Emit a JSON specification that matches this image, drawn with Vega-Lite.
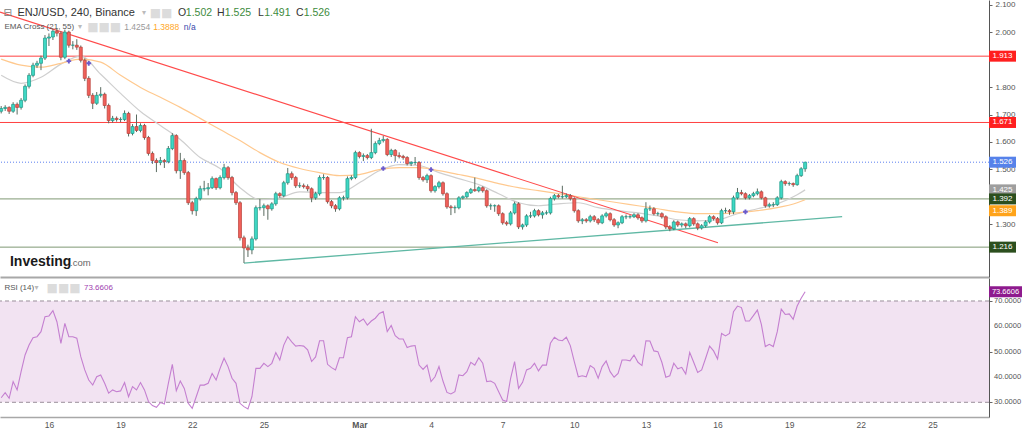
{
"$schema":"https://vega.github.io/schema/vega-lite/v6.json",
"padding":0,
"spacing":1,
"config":{"view":{"stroke":null},"font":"Liberation Sans","axis":{"grid":false,"labelOverlap":false,"labelFont":"Liberation Sans","labelColor":"#555","labelFontSize":8,"domainColor":"#666","tickColor":"#666"}},
"datasets":{
"candles":[
{"i":0,"o":1.712,"h":1.731,"l":1.704,"c":1.722,"r":31.8},
{"i":1,"o":1.722,"h":1.734,"l":1.713,"c":1.726,"r":33.8},
{"i":2,"o":1.726,"h":1.730,"l":1.702,"c":1.712,"r":31.6},
{"i":3,"o":1.712,"h":1.745,"l":1.706,"c":1.737,"r":38.2},
{"i":4,"o":1.737,"h":1.744,"l":1.700,"c":1.726,"r":34.9},
{"i":5,"o":1.726,"h":1.760,"l":1.718,"c":1.752,"r":42.1},
{"i":6,"o":1.752,"h":1.810,"l":1.745,"c":1.803,"r":48.7},
{"i":7,"o":1.803,"h":1.851,"l":1.795,"c":1.843,"r":52.6},
{"i":8,"o":1.843,"h":1.889,"l":1.836,"c":1.880,"r":55.5},
{"i":9,"o":1.880,"h":1.896,"l":1.870,"c":1.887,"r":55.9},
{"i":10,"o":1.887,"h":1.915,"l":1.862,"c":1.906,"r":57.9},
{"i":11,"o":1.906,"h":1.990,"l":1.899,"c":1.979,"r":63.8},
{"i":12,"o":1.979,"h":1.996,"l":1.950,"c":1.983,"r":64.1},
{"i":13,"o":1.983,"h":2.012,"l":1.972,"c":2.004,"r":66.2},
{"i":14,"o":2.004,"h":2.015,"l":1.985,"c":1.997,"r":61.8},
{"i":15,"o":1.997,"h":2.003,"l":1.898,"c":1.909,"r":53.3},
{"i":16,"o":1.909,"h":2.010,"l":1.902,"c":2.001,"r":61.2},
{"i":17,"o":2.001,"h":2.006,"l":1.944,"c":1.953,"r":55.9},
{"i":18,"o":1.953,"h":1.968,"l":1.938,"c":1.953,"r":55.9},
{"i":19,"o":1.953,"h":1.975,"l":1.936,"c":1.946,"r":55.3},
{"i":20,"o":1.946,"h":1.952,"l":1.890,"c":1.898,"r":48.0},
{"i":21,"o":1.898,"h":1.905,"l":1.822,"c":1.832,"r":42.8},
{"i":22,"o":1.832,"h":1.840,"l":1.760,"c":1.770,"r":38.8},
{"i":23,"o":1.770,"h":1.778,"l":1.720,"c":1.741,"r":36.8},
{"i":24,"o":1.741,"h":1.782,"l":1.735,"c":1.770,"r":40.1},
{"i":25,"o":1.770,"h":1.800,"l":1.762,"c":1.774,"r":40.8},
{"i":26,"o":1.774,"h":1.780,"l":1.722,"c":1.733,"r":37.5},
{"i":27,"o":1.733,"h":1.740,"l":1.668,"c":1.678,"r":33.6},
{"i":28,"o":1.678,"h":1.695,"l":1.670,"c":1.686,"r":34.9},
{"i":29,"o":1.686,"h":1.693,"l":1.674,"c":1.682,"r":34.2},
{"i":30,"o":1.682,"h":1.690,"l":1.672,"c":1.682,"r":34.5},
{"i":31,"o":1.682,"h":1.715,"l":1.676,"c":1.704,"r":37.8},
{"i":32,"o":1.704,"h":1.710,"l":1.620,"c":1.631,"r":32.2},
{"i":33,"o":1.631,"h":1.665,"l":1.624,"c":1.656,"r":36.2},
{"i":34,"o":1.656,"h":1.700,"l":1.636,"c":1.642,"r":34.9},
{"i":35,"o":1.642,"h":1.668,"l":1.635,"c":1.660,"r":37.8},
{"i":36,"o":1.660,"h":1.666,"l":1.608,"c":1.616,"r":34.9},
{"i":37,"o":1.616,"h":1.622,"l":1.550,"c":1.558,"r":30.3},
{"i":38,"o":1.558,"h":1.565,"l":1.520,"c":1.532,"r":28.7},
{"i":39,"o":1.532,"h":1.540,"l":1.490,"c":1.525,"r":28.0},
{"i":40,"o":1.525,"h":1.545,"l":1.515,"c":1.532,"r":29.9},
{"i":41,"o":1.532,"h":1.538,"l":1.505,"c":1.528,"r":29.3},
{"i":42,"o":1.528,"h":1.585,"l":1.522,"c":1.576,"r":37.5},
{"i":43,"o":1.576,"h":1.632,"l":1.570,"c":1.623,"r":45.0},
{"i":44,"o":1.623,"h":1.628,"l":1.485,"c":1.495,"r":34.6},
{"i":45,"o":1.495,"h":1.560,"l":1.465,"c":1.532,"r":38.4},
{"i":46,"o":1.532,"h":1.540,"l":1.480,"c":1.488,"r":35.5},
{"i":47,"o":1.488,"h":1.494,"l":1.370,"c":1.378,"r":29.6},
{"i":48,"o":1.378,"h":1.385,"l":1.335,"c":1.349,"r":27.6},
{"i":49,"o":1.349,"h":1.400,"l":1.330,"c":1.393,"r":32.2},
{"i":50,"o":1.393,"h":1.440,"l":1.386,"c":1.429,"r":36.8},
{"i":51,"o":1.429,"h":1.458,"l":1.420,"c":1.429,"r":36.8},
{"i":52,"o":1.429,"h":1.450,"l":1.405,"c":1.433,"r":37.5},
{"i":53,"o":1.433,"h":1.474,"l":1.428,"c":1.466,"r":41.4},
{"i":54,"o":1.466,"h":1.470,"l":1.425,"c":1.433,"r":38.8},
{"i":55,"o":1.433,"h":1.478,"l":1.427,"c":1.470,"r":43.4},
{"i":56,"o":1.470,"h":1.520,"l":1.463,"c":1.506,"r":47.4},
{"i":57,"o":1.506,"h":1.512,"l":1.462,"c":1.470,"r":44.1},
{"i":58,"o":1.470,"h":1.476,"l":1.405,"c":1.415,"r":39.5},
{"i":59,"o":1.415,"h":1.421,"l":1.370,"c":1.378,"r":37.5},
{"i":60,"o":1.378,"h":1.384,"l":1.240,"c":1.250,"r":29.6},
{"i":61,"o":1.250,"h":1.258,"l":1.158,"c":1.213,"r":28.3},
{"i":62,"o":1.213,"h":1.225,"l":1.180,"c":1.206,"r":27.4},
{"i":63,"o":1.206,"h":1.255,"l":1.190,"c":1.246,"r":32.2},
{"i":64,"o":1.246,"h":1.368,"l":1.240,"c":1.360,"r":43.4},
{"i":65,"o":1.360,"h":1.392,"l":1.350,"c":1.360,"r":43.4},
{"i":66,"o":1.360,"h":1.375,"l":1.330,"c":1.367,"r":45.4},
{"i":67,"o":1.367,"h":1.372,"l":1.316,"c":1.356,"r":44.1},
{"i":68,"o":1.356,"h":1.380,"l":1.349,"c":1.374,"r":45.4},
{"i":69,"o":1.374,"h":1.418,"l":1.367,"c":1.411,"r":49.6},
{"i":70,"o":1.411,"h":1.416,"l":1.396,"c":1.404,"r":46.7},
{"i":71,"o":1.404,"h":1.458,"l":1.398,"c":1.451,"r":52.6},
{"i":72,"o":1.451,"h":1.505,"l":1.444,"c":1.484,"r":55.9},
{"i":73,"o":1.484,"h":1.492,"l":1.462,"c":1.470,"r":53.9},
{"i":74,"o":1.470,"h":1.476,"l":1.432,"c":1.440,"r":52.2},
{"i":75,"o":1.440,"h":1.452,"l":1.432,"c":1.440,"r":52.4},
{"i":76,"o":1.440,"h":1.448,"l":1.430,"c":1.437,"r":52.2},
{"i":77,"o":1.437,"h":1.445,"l":1.420,"c":1.429,"r":50.7},
{"i":78,"o":1.429,"h":1.434,"l":1.380,"c":1.396,"r":46.1},
{"i":79,"o":1.396,"h":1.418,"l":1.389,"c":1.411,"r":47.9},
{"i":80,"o":1.411,"h":1.478,"l":1.404,"c":1.470,"r":54.3},
{"i":81,"o":1.470,"h":1.482,"l":1.462,"c":1.470,"r":54.3},
{"i":82,"o":1.470,"h":1.475,"l":1.375,"c":1.382,"r":45.0},
{"i":83,"o":1.382,"h":1.388,"l":1.358,"c":1.367,"r":43.7},
{"i":84,"o":1.367,"h":1.373,"l":1.345,"c":1.356,"r":42.8},
{"i":85,"o":1.356,"h":1.402,"l":1.350,"c":1.396,"r":47.6},
{"i":86,"o":1.396,"h":1.404,"l":1.386,"c":1.396,"r":47.6},
{"i":87,"o":1.396,"h":1.474,"l":1.390,"c":1.466,"r":55.5},
{"i":88,"o":1.466,"h":1.478,"l":1.460,"c":1.470,"r":55.9},
{"i":89,"o":1.470,"h":1.568,"l":1.464,"c":1.561,"r":63.8},
{"i":90,"o":1.561,"h":1.566,"l":1.540,"c":1.547,"r":61.8},
{"i":91,"o":1.547,"h":1.558,"l":1.530,"c":1.550,"r":62.9},
{"i":92,"o":1.550,"h":1.556,"l":1.536,"c":1.543,"r":60.5},
{"i":93,"o":1.543,"h":1.648,"l":1.537,"c":1.561,"r":62.1},
{"i":94,"o":1.561,"h":1.602,"l":1.555,"c":1.594,"r":63.2},
{"i":95,"o":1.594,"h":1.615,"l":1.588,"c":1.605,"r":65.1},
{"i":96,"o":1.605,"h":1.622,"l":1.598,"c":1.609,"r":65.8},
{"i":97,"o":1.609,"h":1.614,"l":1.548,"c":1.554,"r":57.9},
{"i":98,"o":1.554,"h":1.575,"l":1.545,"c":1.569,"r":60.3},
{"i":99,"o":1.569,"h":1.574,"l":1.528,"c":1.550,"r":56.3},
{"i":100,"o":1.550,"h":1.562,"l":1.540,"c":1.547,"r":55.0},
{"i":101,"o":1.547,"h":1.553,"l":1.535,"c":1.543,"r":55.0},
{"i":102,"o":1.543,"h":1.548,"l":1.514,"c":1.521,"r":51.6},
{"i":103,"o":1.521,"h":1.530,"l":1.512,"c":1.525,"r":52.2},
{"i":104,"o":1.525,"h":1.545,"l":1.516,"c":1.525,"r":52.4},
{"i":105,"o":1.525,"h":1.530,"l":1.462,"c":1.470,"r":44.7},
{"i":106,"o":1.470,"h":1.476,"l":1.455,"c":1.462,"r":43.0},
{"i":107,"o":1.462,"h":1.484,"l":1.450,"c":1.477,"r":44.7},
{"i":108,"o":1.477,"h":1.482,"l":1.415,"c":1.422,"r":38.2},
{"i":109,"o":1.422,"h":1.442,"l":1.415,"c":1.437,"r":40.1},
{"i":110,"o":1.437,"h":1.458,"l":1.430,"c":1.451,"r":44.1},
{"i":111,"o":1.451,"h":1.456,"l":1.404,"c":1.411,"r":38.4},
{"i":112,"o":1.411,"h":1.416,"l":1.356,"c":1.363,"r":33.9},
{"i":113,"o":1.363,"h":1.370,"l":1.333,"c":1.360,"r":33.3},
{"i":114,"o":1.360,"h":1.368,"l":1.340,"c":1.360,"r":34.2},
{"i":115,"o":1.360,"h":1.402,"l":1.354,"c":1.396,"r":40.8},
{"i":116,"o":1.396,"h":1.405,"l":1.390,"c":1.400,"r":40.5},
{"i":117,"o":1.400,"h":1.420,"l":1.394,"c":1.415,"r":42.1},
{"i":118,"o":1.415,"h":1.432,"l":1.410,"c":1.426,"r":45.8},
{"i":119,"o":1.426,"h":1.470,"l":1.418,"c":1.422,"r":44.7},
{"i":120,"o":1.422,"h":1.438,"l":1.416,"c":1.433,"r":47.6},
{"i":121,"o":1.433,"h":1.438,"l":1.415,"c":1.422,"r":45.4},
{"i":122,"o":1.422,"h":1.427,"l":1.360,"c":1.367,"r":38.2},
{"i":123,"o":1.367,"h":1.375,"l":1.352,"c":1.367,"r":38.4},
{"i":124,"o":1.367,"h":1.372,"l":1.345,"c":1.367,"r":37.5},
{"i":125,"o":1.367,"h":1.372,"l":1.330,"c":1.338,"r":34.2},
{"i":126,"o":1.338,"h":1.343,"l":1.298,"c":1.305,"r":30.9},
{"i":127,"o":1.305,"h":1.312,"l":1.294,"c":1.301,"r":30.3},
{"i":128,"o":1.301,"h":1.348,"l":1.295,"c":1.341,"r":39.5},
{"i":129,"o":1.341,"h":1.382,"l":1.335,"c":1.374,"r":46.1},
{"i":130,"o":1.374,"h":1.380,"l":1.282,"c":1.290,"r":35.5},
{"i":131,"o":1.290,"h":1.302,"l":1.280,"c":1.297,"r":37.9},
{"i":132,"o":1.297,"h":1.336,"l":1.290,"c":1.330,"r":42.8},
{"i":133,"o":1.330,"h":1.345,"l":1.322,"c":1.330,"r":43.4},
{"i":134,"o":1.330,"h":1.356,"l":1.324,"c":1.349,"r":45.4},
{"i":135,"o":1.349,"h":1.354,"l":1.328,"c":1.334,"r":42.4},
{"i":136,"o":1.334,"h":1.348,"l":1.320,"c":1.341,"r":44.7},
{"i":137,"o":1.341,"h":1.350,"l":1.334,"c":1.341,"r":44.7},
{"i":138,"o":1.341,"h":1.400,"l":1.335,"c":1.393,"r":53.3},
{"i":139,"o":1.393,"h":1.410,"l":1.386,"c":1.404,"r":55.7},
{"i":140,"o":1.404,"h":1.410,"l":1.394,"c":1.400,"r":54.6},
{"i":141,"o":1.400,"h":1.440,"l":1.393,"c":1.400,"r":54.3},
{"i":142,"o":1.400,"h":1.412,"l":1.395,"c":1.404,"r":55.7},
{"i":143,"o":1.404,"h":1.410,"l":1.386,"c":1.393,"r":52.4},
{"i":144,"o":1.393,"h":1.398,"l":1.342,"c":1.349,"r":46.1},
{"i":145,"o":1.349,"h":1.354,"l":1.305,"c":1.312,"r":40.1},
{"i":146,"o":1.312,"h":1.322,"l":1.300,"c":1.316,"r":40.5},
{"i":147,"o":1.316,"h":1.322,"l":1.305,"c":1.312,"r":40.1},
{"i":148,"o":1.312,"h":1.334,"l":1.306,"c":1.327,"r":44.5},
{"i":149,"o":1.327,"h":1.333,"l":1.308,"c":1.316,"r":43.4},
{"i":150,"o":1.316,"h":1.322,"l":1.298,"c":1.305,"r":39.5},
{"i":151,"o":1.305,"h":1.336,"l":1.300,"c":1.330,"r":44.1},
{"i":152,"o":1.330,"h":1.345,"l":1.324,"c":1.338,"r":46.3},
{"i":153,"o":1.338,"h":1.343,"l":1.310,"c":1.316,"r":42.1},
{"i":154,"o":1.316,"h":1.322,"l":1.290,"c":1.297,"r":39.9},
{"i":155,"o":1.297,"h":1.310,"l":1.285,"c":1.305,"r":41.4},
{"i":156,"o":1.305,"h":1.333,"l":1.300,"c":1.327,"r":46.7},
{"i":157,"o":1.327,"h":1.335,"l":1.318,"c":1.327,"r":46.7},
{"i":158,"o":1.327,"h":1.334,"l":1.320,"c":1.327,"r":46.4},
{"i":159,"o":1.327,"h":1.340,"l":1.322,"c":1.334,"r":48.7},
{"i":160,"o":1.334,"h":1.340,"l":1.316,"c":1.323,"r":45.8},
{"i":161,"o":1.323,"h":1.328,"l":1.305,"c":1.312,"r":44.5},
{"i":162,"o":1.312,"h":1.380,"l":1.306,"c":1.356,"r":54.3},
{"i":163,"o":1.356,"h":1.368,"l":1.348,"c":1.356,"r":54.2},
{"i":164,"o":1.356,"h":1.362,"l":1.332,"c":1.338,"r":50.3},
{"i":165,"o":1.338,"h":1.345,"l":1.330,"c":1.338,"r":50.0},
{"i":166,"o":1.338,"h":1.343,"l":1.320,"c":1.327,"r":45.8},
{"i":167,"o":1.327,"h":1.332,"l":1.282,"c":1.290,"r":39.9},
{"i":168,"o":1.290,"h":1.296,"l":1.274,"c":1.283,"r":40.5},
{"i":169,"o":1.283,"h":1.314,"l":1.278,"c":1.308,"r":45.4},
{"i":170,"o":1.308,"h":1.313,"l":1.290,"c":1.297,"r":43.2},
{"i":171,"o":1.297,"h":1.306,"l":1.288,"c":1.301,"r":43.8},
{"i":172,"o":1.301,"h":1.306,"l":1.285,"c":1.294,"r":41.2},
{"i":173,"o":1.294,"h":1.326,"l":1.288,"c":1.320,"r":49.7},
{"i":174,"o":1.320,"h":1.325,"l":1.294,"c":1.301,"r":45.8},
{"i":175,"o":1.301,"h":1.306,"l":1.278,"c":1.286,"r":41.8},
{"i":176,"o":1.286,"h":1.300,"l":1.280,"c":1.294,"r":42.8},
{"i":177,"o":1.294,"h":1.314,"l":1.288,"c":1.308,"r":47.4},
{"i":178,"o":1.308,"h":1.333,"l":1.302,"c":1.327,"r":52.2},
{"i":179,"o":1.327,"h":1.332,"l":1.313,"c":1.320,"r":50.3},
{"i":180,"o":1.320,"h":1.326,"l":1.298,"c":1.305,"r":47.1},
{"i":181,"o":1.305,"h":1.356,"l":1.300,"c":1.349,"r":57.2},
{"i":182,"o":1.349,"h":1.360,"l":1.340,"c":1.349,"r":56.2},
{"i":183,"o":1.349,"h":1.355,"l":1.334,"c":1.345,"r":57.2},
{"i":184,"o":1.345,"h":1.404,"l":1.336,"c":1.396,"r":65.8},
{"i":185,"o":1.396,"h":1.432,"l":1.390,"c":1.415,"r":68.0},
{"i":186,"o":1.415,"h":1.425,"l":1.405,"c":1.411,"r":67.4},
{"i":187,"o":1.411,"h":1.416,"l":1.390,"c":1.396,"r":62.1},
{"i":188,"o":1.396,"h":1.410,"l":1.390,"c":1.404,"r":62.1},
{"i":189,"o":1.404,"h":1.418,"l":1.398,"c":1.411,"r":64.2},
{"i":190,"o":1.411,"h":1.430,"l":1.405,"c":1.418,"r":66.4},
{"i":191,"o":1.418,"h":1.423,"l":1.390,"c":1.396,"r":60.8},
{"i":192,"o":1.396,"h":1.400,"l":1.360,"c":1.367,"r":52.0},
{"i":193,"o":1.367,"h":1.378,"l":1.360,"c":1.371,"r":52.9},
{"i":194,"o":1.371,"h":1.380,"l":1.362,"c":1.371,"r":52.0},
{"i":195,"o":1.371,"h":1.402,"l":1.366,"c":1.396,"r":57.9},
{"i":196,"o":1.396,"h":1.462,"l":1.390,"c":1.455,"r":66.8},
{"i":197,"o":1.455,"h":1.460,"l":1.440,"c":1.448,"r":64.7},
{"i":198,"o":1.448,"h":1.455,"l":1.440,"c":1.448,"r":64.9},
{"i":199,"o":1.448,"h":1.452,"l":1.436,"c":1.444,"r":62.8},
{"i":200,"o":1.444,"h":1.484,"l":1.440,"c":1.477,"r":68.0},
{"i":201,"o":1.477,"h":1.508,"l":1.472,"c":1.502,"r":71.1},
{"i":202,"o":1.502,"h":1.525,"l":1.491,"c":1.526,"r":73.66}
],
"ema":[
{"i":0,"g":1.843,"e":1.902},{"i":5,"g":1.814,"e":1.880},{"i":10,"g":1.836,"e":1.873},{"i":15,"g":1.884,"e":1.887},
{"i":20,"g":1.913,"e":1.902},{"i":25,"g":1.847,"e":1.891},{"i":30,"g":1.777,"e":1.843},{"i":35,"g":1.711,"e":1.799},
{"i":40,"g":1.660,"e":1.763},{"i":45,"g":1.609,"e":1.726},{"i":50,"g":1.543,"e":1.686},{"i":55,"g":1.503,"e":1.645},
{"i":60,"g":1.433,"e":1.605},{"i":65,"g":1.389,"e":1.561},{"i":70,"g":1.396,"e":1.525},{"i":75,"g":1.418,"e":1.503},
{"i":80,"g":1.415,"e":1.488},{"i":85,"g":1.415,"e":1.477},{"i":90,"g":1.451,"e":1.481},{"i":95,"g":1.495,"e":1.499},
{"i":100,"g":1.517,"e":1.506},{"i":105,"g":1.514,"e":1.506},{"i":110,"g":1.488,"e":1.495},{"i":115,"g":1.466,"e":1.481},
{"i":120,"g":1.444,"e":1.466},{"i":125,"g":1.411,"e":1.448},{"i":130,"g":1.378,"e":1.433},{"i":135,"g":1.367,"e":1.422},
{"i":140,"g":1.374,"e":1.411},{"i":145,"g":1.378,"e":1.400},{"i":150,"g":1.360,"e":1.389},{"i":155,"g":1.349,"e":1.378},
{"i":160,"g":1.341,"e":1.367},{"i":165,"g":1.330,"e":1.356},{"i":170,"g":1.316,"e":1.345},{"i":175,"g":1.312,"e":1.338},
{"i":180,"g":1.316,"e":1.338},{"i":185,"g":1.338,"e":1.341},{"i":190,"g":1.356,"e":1.349},{"i":195,"g":1.374,"e":1.360},
{"i":200,"g":1.407,"e":1.378},{"i":202,"g":1.425,"e":1.389}
],
"cross":[{"i":17,"p":1.895},{"i":22,"p":1.887},{"i":96,"p":1.503},{"i":108,"p":1.499},{"i":187,"p":1.345}],
"trend":[{"i":-0.3,"p":2.074,"k":"down"},{"i":180.1,"p":1.232,"k":"down"},{"i":61,"p":1.158,"k":"up"},{"i":211.3,"p":1.327,"k":"up"}],
"levels":[{"v":1.913,"k":"r"},{"v":1.671,"k":"r"},{"v":1.392,"k":"g"},{"v":1.216,"k":"g"}],
"tags":[{"v":1.913,"k":"r"},{"v":1.671,"k":"r"},{"v":1.526,"k":"b"},{"v":1.425,"k":"s"},{"v":1.392,"k":"g"},{"v":1.216,"k":"g"}],
"rsiTicks":[{"v":30},{"v":40},{"v":50},{"v":60},{"v":70}]
},
"vconcat":[
{"width":989,"height":277,
"data":{"values":[{}]},
"layer":[
{"data":{"name":"levels"},"transform":[{"filter":"datum.k=='r'"}],"mark":{"type":"rule","color":"#ff4040","strokeWidth":1,"clip":true},
 "encoding":{"y":{"field":"v","type":"quantitative","scale":{"domain":[1.107,2.118],"nice":false,"zero":false,"padding":0},"title":null,
   "axis":{"orient":"right","values":[1.3,1.5,1.6,1.7,1.8,2.0,2.1],"format":".3f","tickSize":3,"labelPadding":3,"domainColor":"#555","title":null,"labelOverlap":false}}}},
{"data":{"name":"levels"},"transform":[{"filter":"datum.k=='g'"}],"mark":{"type":"rule","color":"#7f9873","strokeWidth":1,"clip":true},
 "encoding":{"y":{"field":"v","type":"quantitative","title":null}}},
{"mark":{"type":"rule","color":"#5b7ff0","strokeWidth":1,"strokeDash":[1,2],"clip":true},"encoding":{"y":{"datum":1.526}}},
{"data":{"name":"ema"},"mark":{"type":"line","color":"#cfcfcf","strokeWidth":1.2,"interpolate":"monotone","clip":true},
 "encoding":{"x":{"field":"i","type":"quantitative","scale":{"domain":[-0.3,248.2],"nice":false,"zero":false,"padding":0},"title":null,
   "axis":{"labels":false,"ticks":false,"domainColor":"#a8a8a8","domainWidth":2,"title":null,"minExtent":0,"maxExtent":0}},
   "y":{"field":"g","type":"quantitative","title":null}}},
{"data":{"name":"ema"},"mark":{"type":"line","color":"#ffc98f","strokeWidth":1.2,"interpolate":"monotone","clip":true},
 "encoding":{"x":{"field":"i","type":"quantitative","title":null},"y":{"field":"e","type":"quantitative","title":null}}},
{"data":{"name":"trend"},"transform":[{"filter":"datum.k=='down'"}],"mark":{"type":"line","color":"#ff4a4a","strokeWidth":1.1,"clip":true},
 "encoding":{"x":{"field":"i","type":"quantitative","title":null},"y":{"field":"p","type":"quantitative","title":null}}},
{"data":{"name":"trend"},"transform":[{"filter":"datum.k=='up'"}],"mark":{"type":"line","color":"#5fb8a4","strokeWidth":1.3,"clip":true},
 "encoding":{"x":{"field":"i","type":"quantitative","title":null},"y":{"field":"p","type":"quantitative","title":null}}},
{"data":{"name":"candles"},"mark":{"type":"rule","color":"#5a6b60","strokeWidth":1,"clip":true},
 "encoding":{"x":{"field":"i","type":"quantitative","title":null},"y":{"field":"l","type":"quantitative","title":null},"y2":{"field":"h"}}},
{"data":{"name":"candles"},"mark":{"type":"bar","width":3,"strokeWidth":0.7,"clip":true},
 "encoding":{"x":{"field":"i","type":"quantitative","title":null},"y":{"field":"o","type":"quantitative","title":null},"y2":{"field":"c"},
   "fill":{"condition":{"test":"datum.c >= datum.o","value":"#3fd8c4"},"value":"#f0605a"},
   "stroke":{"condition":{"test":"datum.c >= datum.o","value":"#1d9a88"},"value":"#b8403a"}}},
{"data":{"name":"cross"},"mark":{"type":"point","shape":"cross","filled":true,"size":22,"color":"#6a5acd","opacity":1},
 "encoding":{"x":{"field":"i","type":"quantitative","title":null},"y":{"field":"p","type":"quantitative","title":null}}},
{"data":{"name":"tags"},"mark":{"type":"rect","x2Offset":27,"yOffset":-5.5,"y2Offset":5.5},
 "encoding":{"x":{"datum":248.2},"x2":{"datum":248.2},"y":{"field":"v","type":"quantitative","title":null},"y2":{"field":"v"},
  "fill":{"condition":[{"test":"datum.k=='r'","value":"#ff1f1f"},{"test":"datum.k=='b'","value":"#5682ea"},{"test":"datum.k=='s'","value":"#9e9e9e"}],"value":"#2c4f1e"}}},
{"data":{"name":"tags"},"mark":{"type":"text","dx":13.5,"align":"center","baseline":"middle","fill":"#ffffff","fontSize":8},
 "encoding":{"x":{"datum":248.2},"y":{"field":"v","type":"quantitative","title":null},"text":{"field":"v","format":".3f"}}},
{"mark":{"type":"rect","x2Offset":27,"yOffset":5.5,"y2Offset":16.5,"fill":"#ffa31a"},
 "encoding":{"x":{"datum":248.2},"x2":{"datum":248.2},"y":{"datum":1.389},"y2":{"datum":1.389}}},
{"mark":{"type":"text","dx":13.5,"dy":11,"align":"center","baseline":"middle","fill":"#ffffff","fontSize":8,"text":"1.389"},
 "encoding":{"x":{"datum":248.2},"y":{"datum":1.389}}},
{"mark":{"type":"text","text":"⊟","align":"left","baseline":"middle","fontSize":10,"fill":"#777","font":"DejaVu Sans"},"encoding":{"x":{"datum":0.6},"y":{"datum":2.0695}}},
{"mark":{"type":"text","text":"ENJ/USD, 240, Binance","align":"left","baseline":"middle","fontSize":11,"fill":"#333"},"encoding":{"x":{"datum":4.1},"y":{"datum":2.0695}}},
{"mark":{"type":"text","text":"▾","align":"left","baseline":"middle","fontSize":8,"fill":"#bbb","font":"DejaVu Sans"},"encoding":{"x":{"datum":35.4},"y":{"datum":2.0695}}},
{"mark":{"type":"text","text":"■■","align":"left","baseline":"middle","fontSize":12,"fill":"#dcdcdc","font":"DejaVu Sans"},"encoding":{"x":{"datum":37.3},"y":{"datum":2.0695}}},
{"mark":{"type":"text","text":"O","align":"left","baseline":"middle","fontSize":10.5,"fill":"#333"},"encoding":{"x":{"datum":44.4},"y":{"datum":2.0695}}},
{"mark":{"type":"text","text":"1.502","align":"left","baseline":"middle","fontSize":10.5,"fill":"#3d8b3d"},"encoding":{"x":{"datum":46.4},"y":{"datum":2.0695}}},
{"mark":{"type":"text","text":"H","align":"left","baseline":"middle","fontSize":10.5,"fill":"#333"},"encoding":{"x":{"datum":54.2},"y":{"datum":2.0695}}},
{"mark":{"type":"text","text":"1.525","align":"left","baseline":"middle","fontSize":10.5,"fill":"#3d8b3d"},"encoding":{"x":{"datum":56.2},"y":{"datum":2.0695}}},
{"mark":{"type":"text","text":"L","align":"left","baseline":"middle","fontSize":10.5,"fill":"#333"},"encoding":{"x":{"datum":64.5},"y":{"datum":2.0695}}},
{"mark":{"type":"text","text":"1.491","align":"left","baseline":"middle","fontSize":10.5,"fill":"#3d8b3d"},"encoding":{"x":{"datum":66.1},"y":{"datum":2.0695}}},
{"mark":{"type":"text","text":"C","align":"left","baseline":"middle","fontSize":10.5,"fill":"#333"},"encoding":{"x":{"datum":74.1},"y":{"datum":2.0695}}},
{"mark":{"type":"text","text":"1.526","align":"left","baseline":"middle","fontSize":10.5,"fill":"#3d8b3d"},"encoding":{"x":{"datum":76.0},"y":{"datum":2.0695}}},
{"mark":{"type":"text","text":"EMA Cross (21, 55)","align":"left","baseline":"middle","fontSize":8,"fill":"#555"},"encoding":{"x":{"datum":0.8},"y":{"datum":2.0207}}},
{"mark":{"type":"text","text":"▾","align":"left","baseline":"middle","fontSize":8,"fill":"#bbb","font":"DejaVu Sans"},"encoding":{"x":{"datum":19.3},"y":{"datum":2.0207}}},
{"mark":{"type":"text","text":"■■■","align":"left","baseline":"middle","fontSize":12,"fill":"#dcdcdc","font":"DejaVu Sans"},"encoding":{"x":{"datum":21.6},"y":{"datum":2.0207}}},
{"mark":{"type":"text","text":"1.4254","align":"left","baseline":"middle","fontSize":8.5,"fill":"#999"},"encoding":{"x":{"datum":30.9},"y":{"datum":2.0207}}},
{"mark":{"type":"text","text":"1.3888","align":"left","baseline":"middle","fontSize":8.5,"fill":"#ffa726"},"encoding":{"x":{"datum":38.2},"y":{"datum":2.0207}}},
{"mark":{"type":"text","text":"n/a","align":"left","baseline":"middle","fontSize":8.5,"fill":"#3949ab"},"encoding":{"x":{"datum":45.9},"y":{"datum":2.0207}}},
{"mark":{"type":"text","text":"Investing","align":"left","baseline":"middle","fontSize":14,"fontWeight":"bold","fill":"#1a1a1a"},"encoding":{"x":{"datum":2.2},"y":{"datum":1.163}}},
{"mark":{"type":"text","text":".com","align":"left","baseline":"middle","fontSize":9.5,"fill":"#666","dy":1},"encoding":{"x":{"datum":17.3},"y":{"datum":1.163}}}
]},
{"width":989,"height":139,
"data":{"values":[{}]},
"layer":[
{"mark":{"type":"rect","fill":"#f2e3f2","clip":true},
 "encoding":{"x":{"datum":-0.3,"scale":{"domain":[-0.3,248.2],"nice":false,"zero":false,"padding":0},
   "axis":{"values":[12,30,48,66,90,108,126,144,162,180,198,216,234],"labelExpr":"datum.value < 90 ? toString(14 + datum.value/6) : (datum.value == 90 ? 'Mar' : toString(datum.value/6 - 14))",
     "ticks":false,"labelPadding":3,"labelFontSize":8.5,"domainColor":"#a8a8a8","domainWidth":1.5,"title":null,"labelOverlap":false,"labelFlush":false,
     "labelFontWeight":{"condition":{"test":"datum.value == 90","value":"bold"},"value":"normal"}}},
   "x2":{"datum":248.2},
   "y":{"datum":70,"scale":{"domain":[24.2,79.08],"nice":false,"zero":false,"padding":0},
   "axis":{"orient":"right","values":[30,40,50,60,70],"labels":false,"tickSize":3,"domainColor":"#555","title":null}},
   "y2":{"datum":30}}},
{"mark":{"type":"rule","color":"#9a8f9a","strokeWidth":1,"strokeDash":[4,3],"clip":true},"encoding":{"y":{"datum":70}}},
{"mark":{"type":"rule","color":"#9a8f9a","strokeWidth":1,"strokeDash":[4,3],"clip":true},"encoding":{"y":{"datum":30}}},
{"data":{"name":"candles"},"mark":{"type":"line","color":"#c47fd0","strokeWidth":1.1,"clip":true},
 "encoding":{"x":{"field":"i","type":"quantitative","title":null},"y":{"field":"r","type":"quantitative","title":null}}},
{"data":{"name":"rsiTicks"},"mark":{"type":"text","dx":5,"align":"left","baseline":"middle","fill":"#555","fontSize":7.5},
 "encoding":{"x":{"datum":248.2},"y":{"field":"v","type":"quantitative","title":null},"text":{"field":"v","format":".4f"}}},
{"mark":{"type":"rect","x2Offset":33,"yOffset":-5.5,"y2Offset":5.5,"fill":"#8e1a8e"},
 "encoding":{"x":{"datum":248.2},"x2":{"datum":248.2},"y":{"datum":73.6606},"y2":{"datum":73.6606}}},
{"mark":{"type":"text","dx":16.5,"align":"center","baseline":"middle","fill":"#ffffff","fontSize":7.5,"text":"73.6606"},
 "encoding":{"x":{"datum":248.2},"y":{"datum":73.6606}}},
{"mark":{"type":"text","text":"RSI (14)","align":"left","baseline":"middle","fontSize":8,"fill":"#555"},"encoding":{"x":{"datum":0.8},"y":{"datum":75.0}}},
{"mark":{"type":"text","text":"▾","align":"left","baseline":"middle","fontSize":8,"fill":"#bbb","font":"DejaVu Sans"},"encoding":{"x":{"datum":8.4},"y":{"datum":75.0}}},
{"mark":{"type":"text","text":"■■■","align":"left","baseline":"middle","fontSize":12,"fill":"#dcdcdc","font":"DejaVu Sans"},"encoding":{"x":{"datum":11.4},"y":{"datum":75.0}}},
{"mark":{"type":"text","text":"73.6606","align":"left","baseline":"middle","fontSize":8,"fill":"#a040b0"},"encoding":{"x":{"datum":20.8},"y":{"datum":75.0}}}
]}
]
}
